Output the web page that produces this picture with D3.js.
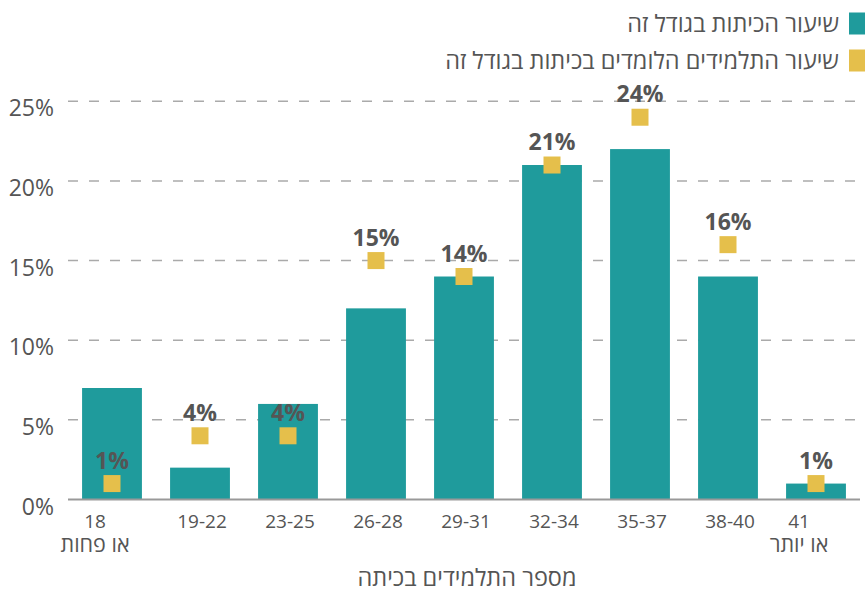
<!DOCTYPE html>
<html lang="he">
<head>
<meta charset="utf-8">
<script src="https://cdn.jsdelivr.net/npm/d3@7"></script>
<style>
  html, body { margin: 0; padding: 0; background: #fff; }
  svg { display: block; font-family: "Open Sans", "Noto Sans", "DejaVu Sans", sans-serif; }
</style>
</head>
<body>
<div id="container"></div>
<script>
// categories (class size), each entry = lines of the tick label
const categories = [
  ["18", "או פחות"], ["19-22"], ["23-25"], ["26-28"], ["29-31"],
  ["32-34"], ["35-37"], ["38-40"], ["41", "או יותר"]
];
// share of classes of this size (%)
const classShare = [7, 2, 6, 12, 14, 21, 22, 14, 1];
// share of students learning in classes of this size (%)
const studentShare = [1, 4, 4, 15, 14, 21, 24, 16, 1];
const yTicks = [0, 5, 10, 15, 20, 25];
const legendLabels = ["שיעור הכיתות בגודל זה", "שיעור התלמידים הלומדים בכיתות בגודל זה"];
const xTitle = "מספר התלמידים בכיתה";

const width = 865, height = 592;
const teal = "#1f9b9c", yellow = "#e5bf4b", textCol = "#555";

const svg = d3.create("svg")
    .attr("width", width)
    .attr("height", height)
    .attr("viewBox", [0, 0, width, height]);

const x = d3.scaleBand()
    .domain(d3.range(categories.length))
    .range([68, 860])
    .paddingInner(0.32)
    .paddingOuter(0.16);

const y = d3.scaleLinear()
    .domain([0, 25])
    .range([499.5, 101.3]);

// gridlines
svg.append("g")
    .selectAll("line")
    .data(yTicks.filter(t => t > 0))
    .join("line")
    .attr("x1", 68).attr("x2", 865)
    .attr("y1", d => y(d)).attr("y2", d => y(d))
    .attr("stroke", "#aaa")
    .attr("stroke-width", 1.5)
    .attr("stroke-dasharray", "10,11");

// y tick labels
svg.append("g")
    .selectAll("text")
    .data(yTicks)
    .join("text")
    .attr("x", 54)
    .attr("y", d => y(d) + 15)
    .attr("text-anchor", "end")
    .attr("font-size", 23)
    .attr("fill", textCol)
    .text(d => d + "%");

// bars
svg.append("g")
    .selectAll("rect")
    .data(classShare)
    .join("rect")
    .attr("x", (d, i) => x(i))
    .attr("y", d => y(d))
    .attr("width", x.bandwidth())
    .attr("height", d => y(0) - y(d))
    .attr("fill", teal);

// baseline
svg.append("line")
    .attr("x1", 68).attr("x2", 860)
    .attr("y1", y(0)).attr("y2", y(0))
    .attr("stroke", "#999")
    .attr("stroke-width", 2);

// student share markers
const sq = 17;
svg.append("g")
    .selectAll("rect")
    .data(studentShare)
    .join("rect")
    .attr("x", (d, i) => x(i) + x.bandwidth() / 2 - sq / 2)
    .attr("y", d => y(d) - sq / 2)
    .attr("width", sq)
    .attr("height", sq)
    .attr("fill", yellow);

svg.append("g")
    .selectAll("text")
    .data(studentShare)
    .join("text")
    .attr("x", (d, i) => x(i) + x.bandwidth() / 2)
    .attr("y", d => y(d) - 15)
    .attr("text-anchor", "middle")
    .attr("font-size", 23)
    .attr("font-weight", 700)
    .attr("fill", "#555")
    .text(d => d + "%");

// x tick labels (second line is Hebrew, drawn a bit larger)
const xt = svg.append("g")
    .selectAll("text")
    .data(categories)
    .join("text")
    .attr("transform", (d, i) => `translate(${x(i) + x.bandwidth() / 2 + (d.length > 1 ? -17 : 2)},528)`)
    .attr("text-anchor", "middle")
    .attr("fill", textCol);
xt.selectAll("tspan")
    .data(d => d)
    .join("tspan")
    .attr("x", 0)
    .attr("y", (d, i) => i * 24)
    .attr("font-size", (d, i) => i === 0 ? 19 : 21.5)
    .text(d => d);

// x title
svg.append("text")
    .attr("x", 467)
    .attr("y", 586)
    .attr("text-anchor", "middle")
    .attr("font-size", 23.5)
    .attr("fill", textCol)
    .text(xTitle);

// legend
const legend = svg.append("g")
    .selectAll("g")
    .data(legendLabels)
    .join("g")
    .attr("transform", (d, i) => `translate(0,${23.5 + i * 37})`);
legend.append("rect")
    .attr("x", 849).attr("y", -11)
    .attr("width", 22).attr("height", 22)
    .attr("fill", (d, i) => i === 0 ? teal : yellow);
legend.append("text")
    .attr("x", 839)
    .attr("y", 8)
    .attr("text-anchor", "end")
    .attr("font-size", 23.5)
    .attr("fill", textCol)
    .text(d => d);

document.getElementById("container").append(svg.node());
</script>
</body>
</html>
